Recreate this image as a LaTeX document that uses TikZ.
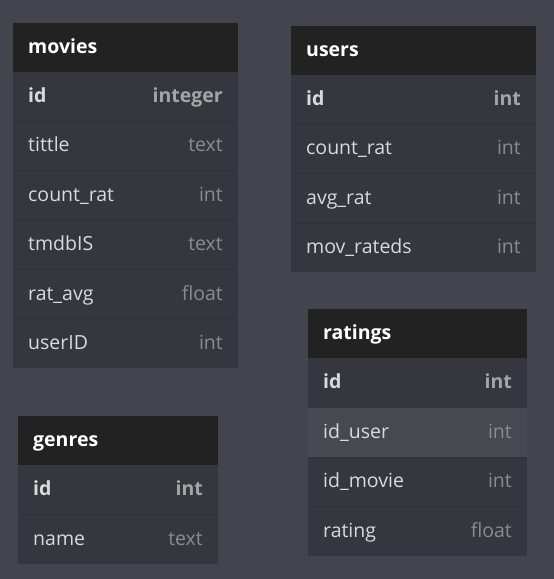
\documentclass[tikz,border=0pt]{standalone}
\usepackage{fontspec}
\setmainfont{Open Sans}
\definecolor{bg}{RGB}{68,68,78}
\definecolor{headbg}{RGB}{34,34,34}
\definecolor{rowbg}{RGB}{54,54,62}
\definecolor{rowhl}{RGB}{72,72,80}
\definecolor{sepc}{RGB}{48,48,56}
\definecolor{nametxt}{RGB}{218,218,218}
\definecolor{typetxt}{RGB}{140,140,140}
\definecolor{idtype}{RGB}{165,165,165}
\tikzset{
  basefont/.style={font=\fontsize{19.5}{21}\selectfont},
  fname/.style={anchor=base west, inner sep=0pt, text=nametxt, basefont},
  ftype/.style={anchor=base east, inner sep=0pt, text=typetxt, basefont},
  fnameid/.style={fname, font=\fontsize{19.5}{21}\selectfont\bfseries},
  ftypeid/.style={ftype, text=idtype, font=\fontsize{19.5}{21}\selectfont\bfseries},
  titletxt/.style={anchor=base west, inner sep=0pt, text=white, font=\fontsize{19.5}{21}\selectfont\bfseries},
  sepline/.style={draw=sepc, line width=1pt},
}
% #1 key, #2 x1, #3 x2, #4 top, #5 title
\newcommand\dbhead[5]{%
  \fill[headbg] (#2,#4) rectangle (#3,#4+49);
  \node[titletxt] (#1-title) at (#2+15,#4+30.5) {#5};}
% #1 key, #2 x1, #3 x2, #4 top, #5 height, #6 fill, #7 name, #8 type, #9 style suffix
\newcommand\dbrow[9]{%
  \fill[#6] (#2,#4) rectangle (#3,#4+#5);
  \node[fname#9] (#1-n) at (#2+15,#4+#5/2+6) {#7};
  \node[ftype#9] (#1-t) at (#3-15,#4+#5/2+6) {#8};}
\begin{document}
\begin{tikzpicture}[x=1pt,y=-1pt]
\fill[bg] (0,0) rectangle (554,579);
\useasboundingbox (0,0) rectangle (554,579);
% movies
\dbhead{movies}{13}{238}{23}{movies}
\dbrow{movies-id}{13}{238}{72}{49.33}{rowbg}{id}{integer}{id}
\dbrow{movies-tittle}{13}{238}{121.33}{49.33}{rowbg}{tittle}{text}{}
\dbrow{movies-count}{13}{238}{170.67}{49.33}{rowbg}{count\_rat}{int}{}
\dbrow{movies-tmdb}{13}{238}{220}{49.33}{rowbg}{tmdbIS}{text}{}
\dbrow{movies-rat}{13}{238}{269.33}{49.33}{rowbg}{rat\_avg}{float}{}
\dbrow{movies-user}{13}{238}{318.67}{49.33}{rowbg}{userID}{int}{}
\foreach \y in {121.33,170.67,220,269.33,318.67} \draw[sepline] (13,\y) -- (238,\y);
% users
\dbhead{users}{291}{536}{26}{users}
\dbrow{users-id}{291}{536}{75}{49.33}{rowbg}{id}{int}{id}
\dbrow{users-count}{291}{536}{124.33}{49.33}{rowbg}{count\_rat}{int}{}
\dbrow{users-avg}{291}{536}{173.67}{49.33}{rowbg}{avg\_rat}{int}{}
\dbrow{users-mov}{291}{536}{223}{49.33}{rowbg}{mov\_rateds}{int}{}
\foreach \y in {124.33,173.67,223} \draw[sepline] (291,\y) -- (536,\y);
% ratings
\dbhead{ratings}{308}{527}{309}{ratings}
\dbrow{ratings-id}{308}{527}{358}{49.5}{rowbg}{id}{int}{id}
\dbrow{ratings-user}{308}{527}{407.5}{49.5}{rowhl}{id\_user}{int}{}
\dbrow{ratings-movie}{308}{527}{457}{49.5}{rowbg}{id\_movie}{int}{}
\dbrow{ratings-rating}{308}{527}{506.5}{49.5}{rowbg}{rating}{float}{}
\draw[sepline] (308,457) -- (527,457);
\draw[sepline] (308,506.5) -- (527,506.5);
% genres
\dbhead{genres}{18}{218}{416}{genres}
\dbrow{genres-id}{18}{218}{465}{49.5}{rowbg}{id}{int}{id}
\dbrow{genres-name}{18}{218}{514.5}{49.5}{rowbg}{name}{text}{}
\draw[sepline] (18,514.5) -- (218,514.5);
\end{tikzpicture}
\end{document}
